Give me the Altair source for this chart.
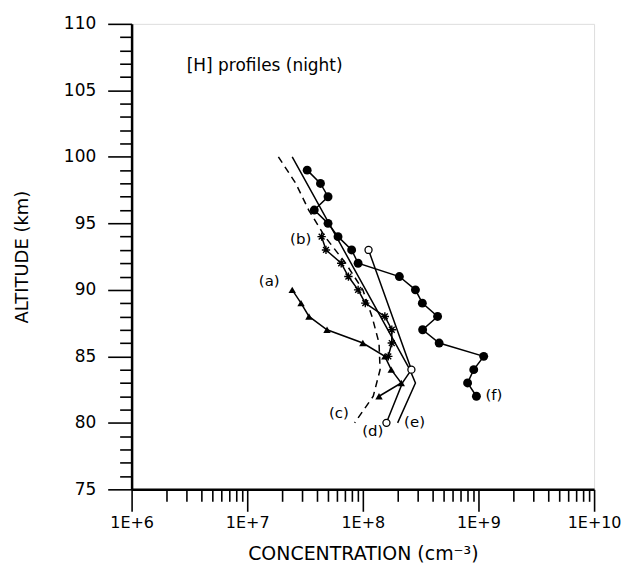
import altair as alt
import pandas as pd

# ---- data ----
a_alt = [90, 89, 88, 87, 86, 85, 84, 83, 82]
a_conc = [2.45e7, 2.92e7, 3.42e7, 4.9e7, 1.0e8, 1.55e8, 1.76e8, 2.15e8, 1.38e8]

b_alt = [94, 93, 92, 91, 90, 89, 88, 87, 86, 85]
b_conc = [4.4e7, 4.8e7, 6.5e7, 7.5e7, 9.1e7, 1.05e8, 1.55e8, 1.78e8, 1.78e8, 1.66e8]

c_alt = [100, 98, 96, 94, 92, 90, 88, 86, 84, 82, 80]
c_conc = [1.86e7, 2.63e7, 3.4e7, 4.7e7, 7.1e7, 1.0e8, 1.2e8, 1.38e8, 1.41e8, 1.23e8, 8.5e7]

d_alt = [93, 84, 83, 80]
d_conc = [1.12e8, 2.63e8, 2.2e8, 1.6e8]
d_marker = [True, True, False, True]

e_alt = [100, 84, 83, 80]
e_conc = [2.45e7, 2.55e8, 2.85e8, 2.0e8]

f_alt = [99, 98, 97, 96, 95, 94, 93, 92, 91, 90, 89, 88, 87, 86, 85, 84, 83, 82]
f_conc = [3.3e7, 4.3e7, 5.0e7, 3.8e7, 5.0e7, 6.1e7, 8.0e7, 9.1e7, 2.07e8, 2.85e8,
          3.27e8, 4.43e8, 3.29e8, 4.57e8, 1.11e9, 9.1e8, 8.05e8, 9.6e8]

label_text = ["(a)", "(b)", "(c)", "(d)", "(e)", "(f)"]
label_conc = [1.55e7, 2.9e7, 6.2e7, 1.22e8, 2.8e8, 1.36e9]
label_alt = [90.65, 93.85, 80.75, 79.4, 80.05, 82.1]

title_text = ["[H] profiles (night)"]
title_conc = [3.0e6]
title_alt = [106.8]

y_ticks = list(range(75, 111))
x_ticks = [m * 10 ** e for e in range(6, 10) for m in range(1, 10)] + [1e10]


def frame(name, alts, concs, marker=None):
    df = pd.DataFrame({"series": name, "alt": alts, "conc": concs})
    df["idx"] = range(len(df))
    df["marker"] = marker if marker is not None else [True] * len(df)
    return df


solid = pd.concat([
    frame("a", a_alt, a_conc),
    frame("b", b_alt, b_conc),
    frame("d", d_alt, d_conc, d_marker),
    frame("e", e_alt, e_conc),
    frame("f", f_alt, f_conc),
], ignore_index=True)
dashed = frame("c", c_alt, c_conc)
dpts = frame("d", d_alt, d_conc, d_marker)
dpts = dpts[dpts["marker"]]

FONT = "DejaVu Sans"

major_x = "abs(log(datum.value)/LN10 - round(log(datum.value)/LN10)) < 0.001"

x_enc = alt.X(
    "conc:Q",
    scale=alt.Scale(type="log", domain=[1e6, 1e10], nice=False),
    axis=alt.Axis(
        title="CONCENTRATION (cm\u207B\u00B3)",
        values=x_ticks,
        tickCount=100,
        labelExpr=f"{major_x} ? '1E+' + round(log(datum.value)/LN10) : ''",
        tickSize={"condition": {"test": major_x, "value": 22}, "value": 12},
        tickWidth=1.6,
        tickColor="black",
        domainColor="black",
        domainWidth=2.5,
        labelFlush=False,
        labelOverlap=False,
        labelPadding=3,
        labelFont=FONT,
        labelFontSize=16,
        labelColor="black",
        titleFont=FONT,
        titleFontSize=19,
        titleFontWeight="normal",
        titleColor="black",
        titlePadding=14,
        grid=False,
    ),
)
y_enc = alt.Y(
    "alt:Q",
    scale=alt.Scale(domain=[75, 110], nice=False, zero=False),
    axis=alt.Axis(
        title="ALTITUDE (km)",
        values=y_ticks,
        tickCount=100,
        format="d",
        labelExpr="datum.value % 5 === 0 ? datum.label : ''",
        tickSize={"condition": {"test": "datum.value % 5 === 0", "value": 24}, "value": 12},
        tickWidth=1.6,
        tickColor="black",
        domainColor="black",
        domainWidth=2.5,
        labelFlush=False,
        labelOverlap=False,
        labelPadding=12,
        labelFont=FONT,
        labelFontSize=17,
        labelColor="black",
        titleFont=FONT,
        titleFontSize=18,
        titleFontWeight="normal",
        titleColor="black",
        titlePadding=32,
        grid=False,
    ),
)

lines = alt.Chart(solid).mark_line(color="black", strokeWidth=1.5).encode(
    x=x_enc, y=y_enc, detail="series:N", order="idx:Q"
)
dash_line = alt.Chart(dashed).mark_line(color="black", strokeWidth=1.5, strokeDash=[7, 5]).encode(
    x="conc:Q", y="alt:Q", order="idx:Q"
)

f_pts = alt.Chart(frame("f", f_alt, f_conc)).mark_point(
    shape="circle", filled=True, color="black", size=80, opacity=1
).encode(x="conc:Q", y="alt:Q")

a_pts = alt.Chart(frame("a", a_alt, a_conc)).mark_point(
    shape="triangle-up", filled=True, color="black", size=55, opacity=1
).encode(x="conc:Q", y="alt:Q")

asterisk = "M-1,0L1,0M0,-1L0,1M-0.7,-0.7L0.7,0.7M-0.7,0.7L0.7,-0.7"
b_pts = alt.Chart(frame("b", b_alt, b_conc)).mark_point(
    shape=asterisk, filled=False, color="black", size=70, strokeWidth=1.4, opacity=1
).encode(x="conc:Q", y="alt:Q")

d_pts = alt.Chart(dpts).mark_point(
    shape="circle", filled=True, fill="white", stroke="black", strokeWidth=1.3, size=50, opacity=1
).encode(x="conc:Q", y="alt:Q")

labels = alt.Chart(pd.DataFrame({"t": label_text, "conc": label_conc, "alt": label_alt})).mark_text(
    font=FONT, fontSize=15, color="black", align="center", baseline="middle"
).encode(x="conc:Q", y="alt:Q", text="t:N")

title = alt.Chart(pd.DataFrame({"t": title_text, "conc": title_conc, "alt": title_alt})).mark_text(
    font=FONT, fontSize=17, color="black", align="left", baseline="middle"
).encode(x="conc:Q", y="alt:Q", text="t:N")

chart = alt.layer(lines, dash_line, f_pts, a_pts, b_pts, d_pts, labels, title).properties(
    width=464,
    height=467,
    autosize=alt.AutoSizeParams(type="none"),
    padding={"left": 124, "top": 15, "right": 28, "bottom": 74},
).configure_view(stroke="black", strokeWidth=1).configure(background="white")

chart.save("out.html", embed_options={"renderer": "svg", "actions": False})
